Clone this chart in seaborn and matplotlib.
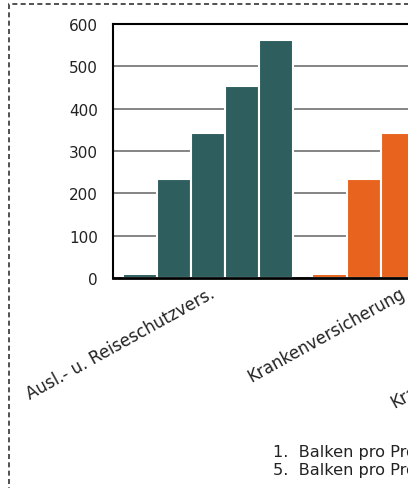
import matplotlib
matplotlib.use("Agg")
import matplotlib.pyplot as plt
import matplotlib.transforms as mtransforms
from matplotlib.patches import Rectangle
import seaborn as sns
import pandas as pd

# ---- data ----
categories = ["Ausl.- u. Reiseschutzvers.", "Krankenversicherung", "Krankenzusatzversicherung"]
bar_labels = ["1", "2", "3", "4", "5"]
values_ausl = [10, 233, 342, 454, 563]
values_kranken = [10, 233, 342, 454, 563]
values_zusatz = [10, 233, 342, 454, 563]
category_colors = ["#2f5e5e", "#e8641e", "#8a9a3a"]
yticks = [0, 100, 200, 300, 400, 500, 600]
footnotes = ["1.  Balken pro Produkt: erstes Jahr", "5.  Balken pro Produkt: fünftes Jahr"]

rows = []
for cat, vals in zip(categories, [values_ausl, values_kranken, values_zusatz]):
    for b, v in zip(bar_labels, vals):
        rows.append({"Produkt": cat, "Balken": b, "Wert": v})
df = pd.DataFrame(rows)

sns.set_theme(style="white")
plt.rcParams["font.family"] = ["DejaVu Sans"]

W, H = 408, 489
fig = plt.figure(figsize=(W / 100, H / 100), dpi=100)
fig.patch.set_facecolor("white")

n = len(categories)
group_px = 190
ax_left, ax_top, ax_bottom = 113, 25, 279
ax = fig.add_axes([ax_left / W, 1 - ax_bottom / H, n * group_px / W, (ax_bottom - ax_top) / H])

sns.barplot(data=df, x="Produkt", y="Wert", hue="Balken", order=categories,
            hue_order=bar_labels, width=0.9, gap=0, ax=ax, legend=False,
            edgecolor="white", linewidth=1.5, saturation=1)

for cont in ax.containers:
    for bar, col in zip(cont, category_colors):
        bar.set_facecolor(col)
        bar.set_edgecolor("white")
        bar.set_linewidth(1.5)
        bar.set_zorder(3)

ax.set_xlim(-0.5, n - 0.5)
ax.set_ylim(0, 600)
ax.set_yticks(yticks)
ax.set_yticklabels([str(t) for t in yticks], fontsize=11, color="#222222")
ax.yaxis.grid(True, color="#707070", linewidth=1.2, zorder=1)
ax.set_axisbelow(True)
ax.tick_params(axis="y", length=0, pad=11)
ax.tick_params(axis="x", length=0, pad=4)
ax.set_xlabel("")
ax.set_ylabel("")

ax.set_xticks(range(n))
ax.set_xticklabels(categories, rotation=29, ha="right", va="top",
                   rotation_mode="anchor", fontsize=12, color="#222222")
offset = mtransforms.ScaledTranslation(1 / 100, 0, fig.dpi_scale_trans)
for lbl in ax.get_xticklabels():
    lbl.set_transform(lbl.get_transform() + offset)

for side in ["top", "left", "right"]:
    ax.spines[side].set_color("black")
    ax.spines[side].set_linewidth(1.5)
ax.spines["bottom"].set_color("black")
ax.spines["bottom"].set_linewidth(2)
for sp in ax.spines.values():
    sp.set_zorder(4)

# footnotes
fig.text(273 / W, 1 - 453 / H, footnotes[0], fontsize=11.6, color="#222222", va="center", ha="left")
fig.text(273 / W, 1 - 471 / H, footnotes[1], fontsize=11.6, color="#222222", va="center", ha="left")

# dashed outer border
border = Rectangle((9 / W, -0.2), 1.5, 1 - 5 / H + 0.2, transform=fig.transFigure,
                   fill=False, edgecolor="#333333", linewidth=1.2,
                   linestyle=(0, (3, 2)), clip_on=False)
fig.add_artist(border)

fig.savefig("out.png", dpi=100)
